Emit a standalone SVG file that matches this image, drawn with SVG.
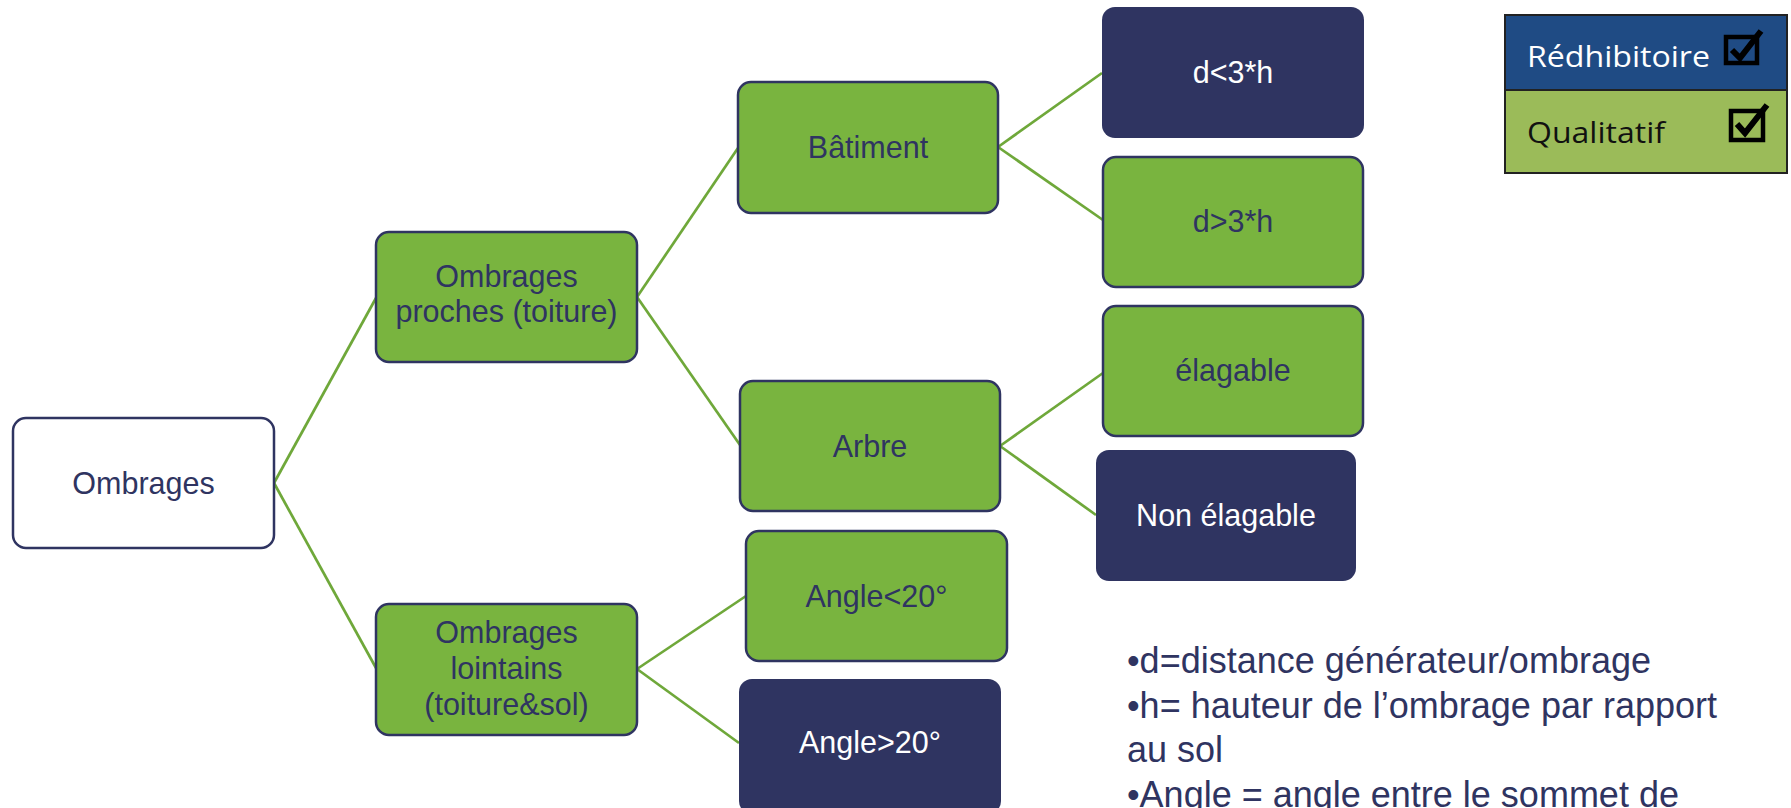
<svg xmlns="http://www.w3.org/2000/svg" width="1791" height="808" viewBox="0 0 1791 808">
<style>
.n{stroke:#2F3461;stroke-width:2.5}
.g{fill:#79B43F}
.w{fill:#FFFFFF}
.d{fill:#2F3461}
.t{font-family:"Liberation Sans",Arial,sans-serif;font-size:30.5px;text-anchor:middle;fill:#2F3461}
.tw{fill:#FFFFFF}
.c{stroke:#6FA83A;stroke-width:2.7;fill:none}
.note{font-family:"Liberation Sans",Arial,sans-serif;font-size:36px;fill:#2F3461}
.leg{font-family:"Open Sans","Liberation Sans",sans-serif;font-size:30px}
.chk{fill:none;stroke:#000;stroke-width:4.5}
.mark{fill:none;stroke:#000;stroke-width:6;stroke-linejoin:miter;stroke-linecap:butt}
</style>
<rect width="1791" height="808" fill="#FFFFFF"/>
<g id="connectors">
<line class="c" x1="274" y1="483" x2="376" y2="298"/>
<line class="c" x1="274" y1="483" x2="376" y2="668"/>
<line class="c" x1="637" y1="297" x2="738" y2="148"/>
<line class="c" x1="637" y1="297" x2="740" y2="445"/>
<line class="c" x1="637" y1="669" x2="746" y2="596"/>
<line class="c" x1="637" y1="669" x2="739" y2="743"/>
<line class="c" x1="998" y1="147" x2="1102" y2="73"/>
<line class="c" x1="998" y1="147" x2="1103" y2="220"/>
<line class="c" x1="1000" y1="446" x2="1103" y2="373"/>
<line class="c" x1="1000" y1="446" x2="1096" y2="515"/>
</g>
<g id="n-ombrages">
<rect class="n w" x="13" y="418" width="261" height="130" rx="13"/>
<text class="t" x="143.5" y="494">Ombrages</text>
</g>
<g id="n-proches">
<rect class="n g" x="376" y="232" width="261" height="130" rx="13"/>
<text class="t" x="506.5" y="287">Ombrages</text>
<text class="t" x="506.5" y="322">proches (toiture)</text>
</g>
<g id="n-lointains">
<rect class="n g" x="376" y="604" width="261" height="131" rx="13"/>
<text class="t" x="506.5" y="643">Ombrages</text>
<text class="t" x="506.5" y="679">lointains</text>
<text class="t" x="506.5" y="715">(toiture&amp;sol)</text>
</g>
<g id="n-batiment">
<rect class="n g" x="738" y="82" width="260" height="131" rx="13"/>
<text class="t" x="868" y="158">Bâtiment</text>
</g>
<g id="n-arbre">
<rect class="n g" x="740" y="381" width="260" height="130" rx="13"/>
<text class="t" x="870" y="457">Arbre</text>
</g>
<g id="n-angle-inf">
<rect class="n g" x="746" y="531" width="261" height="130" rx="13"/>
<text class="t" x="876.5" y="607">Angle&lt;20°</text>
</g>
<g id="n-angle-sup">
<rect class="d" x="739" y="679" width="262" height="135" rx="13"/>
<text class="t tw" x="870" y="753">Angle&gt;20°</text>
</g>
<g id="n-d-inf">
<rect class="d" x="1102" y="7" width="262" height="131" rx="13"/>
<text class="t tw" x="1233" y="83">d&lt;3*h</text>
</g>
<g id="n-d-sup">
<rect class="n g" x="1103" y="157" width="260" height="130" rx="13"/>
<text class="t" x="1233" y="232">d&gt;3*h</text>
</g>
<g id="n-elagable">
<rect class="n g" x="1103" y="306" width="260" height="130" rx="13"/>
<text class="t" x="1233" y="381">élagable</text>
</g>
<g id="n-non-elagable">
<rect class="d" x="1096" y="450" width="260" height="131" rx="13"/>
<text class="t tw" x="1226" y="526">Non élagable</text>
</g>
<g id="legend">
<rect x="1505" y="15" width="282" height="75" fill="#1F4B84"/>
<rect x="1505" y="90" width="282" height="83" fill="#9BBB59"/>
<rect x="1505" y="15" width="282" height="158" fill="none" stroke="#222" stroke-width="2"/>
<line x1="1505" y1="90" x2="1787" y2="90" stroke="#222" stroke-width="2"/>
<text class="leg" x="1527" y="67" fill="#FFFFFF" textLength="183" lengthAdjust="spacingAndGlyphs">Rédhibitoire</text>
<text class="leg" x="1527" y="143" fill="#111111" textLength="138" lengthAdjust="spacingAndGlyphs">Qualitatif</text>
<rect class="chk" x="1726" y="37" width="31" height="26"/>
<polyline class="mark" points="1732,50 1740,58 1761,31"/>
<rect class="chk" x="1731" y="111" width="32" height="29"/>
<polyline class="mark" points="1737,124 1745,133 1767,105"/>
</g>
<g id="notes">
<text class="note" x="1127" y="673">•d=distance générateur/ombrage</text>
<text class="note" x="1127" y="718">•h= hauteur de l’ombrage par rapport</text>
<text class="note" x="1127" y="762">au sol</text>
<text class="note" x="1127" y="807">•Angle = angle entre le sommet de</text>
</g>
</svg>
